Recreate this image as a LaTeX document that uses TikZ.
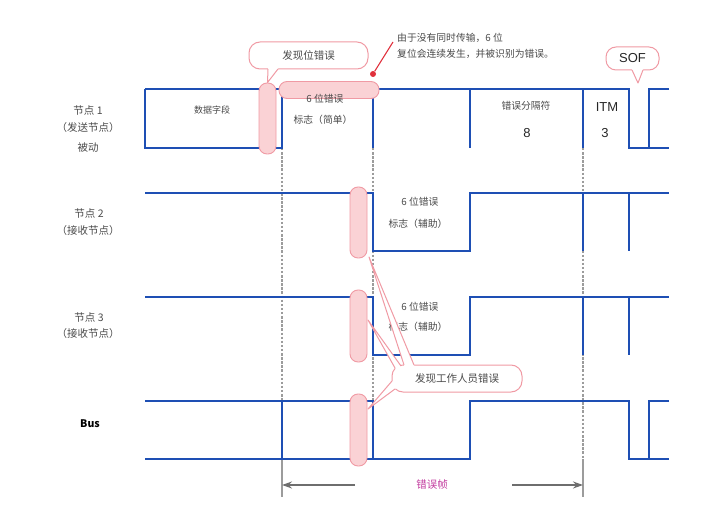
\documentclass[tikz,border=0pt]{standalone}
\usepackage{fontspec}
\setmainfont{Noto Sans CJK SC}
\newfontfamily\latinfont{Liberation Sans}
\usetikzlibrary{positioning,arrows.meta,calc}
\definecolor{SigBlue}{HTML}{1E4FB4}
\definecolor{MarkPink}{HTML}{F09AA4}
\definecolor{MarkFill}{HTML}{FAD2D5}
\definecolor{GuideGray}{HTML}{9C9C9C}
\definecolor{ArrowGray}{HTML}{6E6E6E}
\definecolor{LabelText}{HTML}{4A4A4A}
\definecolor{FrameMagenta}{HTML}{C23A9E}
\definecolor{NoteRed}{HTML}{E0303C}
\tikzset{
  every node/.style = {font=\fontsize{10}{12}\selectfont, text=LabelText,
                       inner sep=1pt},
  rowlabel/.style   = {font=\fontsize{10.5}{12}\selectfont},
  fieldtxt/.style   = {font=\fontsize{9.8}{12}\selectfont},
  bigtxt/.style     = {font=\latinfont\fontsize{13}{15}\selectfont, text=black!85},
  wave/.style       = {draw=SigBlue, line width=2.3pt, line join=miter},
  guide/.style      = {draw=GuideGray, line width=1.1pt,
                       dash pattern=on 2.5pt off 1.6pt},
  guide_solid/.style= {draw=GuideGray, line width=1.4pt},
  capsule/.style    = {rectangle, rounded corners=8pt, draw=MarkPink,
                       fill=MarkFill, line width=0.9pt, inner sep=0pt},
  callout/.style    = {rectangle, rounded corners=11pt, draw=MarkPink,
                       fill=white, line width=1pt, inner sep=0pt},
  tailfill/.style   = {fill=white},
  tailedge/.style   = {draw=MarkPink, line width=1pt, line join=round},
  notedot/.style    = {circle, fill=NoteRed, minimum size=6pt, inner sep=0pt},
  noteline/.style   = {draw=NoteRed, line width=1.1pt},
  dim/.style        = {-{Stealth[length=10pt,width=7pt]}, draw=ArrowGray,
                       line width=1.5pt},
}
% row levels (top / bottom of each signal)
\def\TopA{89}  \def\BotA{148}
\def\TopB{193} \def\BotB{251}
\def\TopC{297} \def\BotC{355}
\def\TopD{401} \def\BotD{459}
% bit edges
\def\XStart{145}
\def\XData{282}
\def\XFlag{373}
\def\XRise{470}
\def\XDelim{583}
\def\XSofL{629}
\def\XSofR{649}
\def\XEnd{669}

\begin{document}
\begin{tikzpicture}[x=1pt, y=-1pt]
\useasboundingbox (0,0) rectangle (720,521);

% =========================================================================
% Guide lines (drawn first, signals sit on top)
% =========================================================================
\draw[guide] (\XData,\BotA) -- (\XData,\BotD);
\draw[guide] (\XFlag,\BotA) -- (\XFlag,\TopD);
\draw[guide] (\XDelim,\BotA) -- (\XDelim,\BotD);
\draw[guide_solid] (\XData,\BotD) -- (\XData,497);
\draw[guide_solid] (\XDelim,\BotD) -- (\XDelim,497);

% =========================================================================
% Signals
% =========================================================================
% Node 1 (transmitter)
\draw[wave] (\XStart,\TopA) -- (\XSofL,\TopA) -- (\XSofL,\BotA) -- (\XEnd,\BotA);
\draw[wave] (\XStart,\TopA) -- (\XStart,\BotA) -- (\XData,\BotA) -- (\XData,\TopA);
\draw[wave] (\XFlag,\TopA) -- (\XFlag,\BotA);
\draw[wave] (\XRise,\TopA) -- (\XRise,\BotA);
\draw[wave] (\XDelim,\TopA) -- (\XDelim,\BotA);
\draw[wave] (\XEnd,\TopA) -- (\XSofR,\TopA) -- (\XSofR,\BotA);

% Node 2 (receiver)
\draw[wave] (\XStart,\TopB) -- (\XFlag,\TopB) -- (\XFlag,\BotB)
   -- (\XRise,\BotB) -- (\XRise,\TopB) -- (\XEnd,\TopB);
\draw[wave] (\XDelim,\TopB) -- (\XDelim,\BotB);
\draw[wave] (\XSofL,\TopB) -- (\XSofL,\BotB);

% Node 3 (receiver)
\draw[wave] (\XStart,\TopC) -- (\XFlag,\TopC) -- (\XFlag,\BotC)
   -- (\XRise,\BotC) -- (\XRise,\TopC) -- (\XEnd,\TopC);
\draw[wave] (\XDelim,\TopC) -- (\XDelim,\BotC);
\draw[wave] (\XSofL,\TopC) -- (\XSofL,\BotC);

% Bus
\draw[wave] (\XStart,\TopD) -- (\XFlag,\TopD) -- (\XFlag,\BotD);
\draw[wave] (\XStart,\BotD) -- (\XRise,\BotD) -- (\XRise,\TopD)
   -- (\XSofL,\TopD) -- (\XSofL,\BotD) -- (\XEnd,\BotD);
\draw[wave] (\XData,\TopD) -- (\XData,\BotD);
\draw[wave] (\XEnd,\TopD) -- (\XSofR,\TopD) -- (\XSofR,\BotD);

% =========================================================================
% Error marks
% =========================================================================
\node[capsule, minimum width=17pt, minimum height=71pt] (errA)   at (267.5,118.5) {};
\node[capsule, minimum width=100pt, minimum height=17pt] (flagA) at (329,90) {};
\node[capsule, minimum width=17pt, minimum height=71pt] (errB)   at (358.5,222.5) {};
\node[capsule, minimum width=17pt, minimum height=72pt] (errC)   at (358.5,326) {};
\node[capsule, minimum width=17pt, minimum height=72pt] (errBus) at (358.5,430) {};

% =========================================================================
% Row labels
% =========================================================================
\node[rowlabel] (lblA)  at (88,111) {节点 1};
\node[rowlabel] (roleA) at (88,128) {（发送节点）};
\node[rowlabel] (modeA) at (88,148) {被动};
\node[rowlabel] (lblB)  at (89,214) {节点 2};
\node[rowlabel] (roleB) at (88,231) {（接收节点）};
\node[rowlabel] (lblC)  at (89,318) {节点 3};
\node[rowlabel] (roleC) at (88,334) {（接收节点）};
\node[font=\fontsize{10.5}{12}\selectfont\bfseries, text=black] (lblBus) at (90,424) {Bus};

% =========================================================================
% Field texts
% =========================================================================
\node[font=\fontsize{9}{11}\selectfont] (data) at (212,110) {数据字段};
\node[fieldtxt] (flagAt) at (325,99)  {6 位错误};
\node[fieldtxt] (flagAb) at (323,120) {标志（简单）};
\node[fieldtxt] (delim)  at (526,106) {错误分隔符};
\node[bigtxt]   (delimN) at (527,133) {8};
\node[bigtxt]   (itm)    at (607,107) {ITM};
\node[bigtxt]   (itmN)   at (605,133) {3};
\node[fieldtxt] (flagBt) at (420,202) {6 位错误};
\node[fieldtxt] (flagBb) at (418,224) {标志（辅助）};
\node[fieldtxt] (flagCt) at (420,307) {6 位错误};
\node[fieldtxt] (flagCb) at (418,327) {标志（辅助）};

% =========================================================================
% Callouts
% =========================================================================
\node[callout, minimum width=119pt, minimum height=27pt,
      font=\fontsize{10.5}{12}\selectfont] (calBit) at (308.5,55.5) {发现位错误};
\fill[tailfill] (268,66) -- (268,69) -- (errA.north) -- (278,69) -- (278,66) -- cycle;
\draw[tailedge] (268,69) -- (errA.north) -- (278,69);

\node[callout, minimum width=53pt, minimum height=23pt, rounded corners=10pt,
      font=\latinfont\fontsize{13}{15}\selectfont, text=black!85] (calSof) at (632.5,58.5) {SOF};
\coordinate (sofTip) at (638,83);
\fill[tailfill] (632,67) -- (632,70) -- (sofTip) -- (643,70) -- (643,67) -- cycle;
\draw[tailedge] (632,70) -- (sofTip) -- (643,70);

\node[callout, minimum width=130pt, minimum height=27pt,
      font=\fontsize{10.5}{12}\selectfont] (calStaff) at (457,378.5) {发现工作人员错误};
\coordinate (tipB)   at (369,257);
\coordinate (tipC)   at (368,320);
\coordinate (tipBus) at (368,409);
\fill[tailfill] (404,368) -- (404,365) -- (tipB) -- (414,365) -- (414,368) -- cycle;
\draw[tailedge] (404,365) -- (tipB) -- (414,365);
\fill[tailfill] (399,372) -- (395,368) -- (tipC) -- (401,366) -- (403,369) -- cycle;
\draw[tailedge] (395,368) -- (tipC) -- (401,366);
\fill[tailfill] (397,381) -- (392,381) -- (tipBus) -- (395,389) -- (399,386) -- cycle;
\draw[tailedge] (392,381) -- (tipBus) -- (395,389);

% =========================================================================
% Note on the flag
% =========================================================================
\node[notedot] (dot) at (373,74) {};
\coordinate (noteEnd) at (393,42);
\draw[noteline] (dot) -- (noteEnd);
\node[anchor=west, align=left, font=\fontsize{9.8}{16}\selectfont] (note)
  at (396,46) {由于没有同时传输，6 位\\复位会连续发生，并被识别为错误。};

% =========================================================================
% Error frame span
% =========================================================================
\coordinate (frameL) at (\XData,485);
\coordinate (frameR) at (\XDelim,485);
\coordinate (arrL) at (355,485);
\coordinate (arrR) at (512,485);
\draw[dim] (arrL) -- (frameL);
\draw[dim] (arrR) -- (frameR);
\node[font=\fontsize{10.5}{12}\selectfont, text=FrameMagenta] (frameLbl) at (432,485) {错误帧};

\end{tikzpicture}
\end{document}
